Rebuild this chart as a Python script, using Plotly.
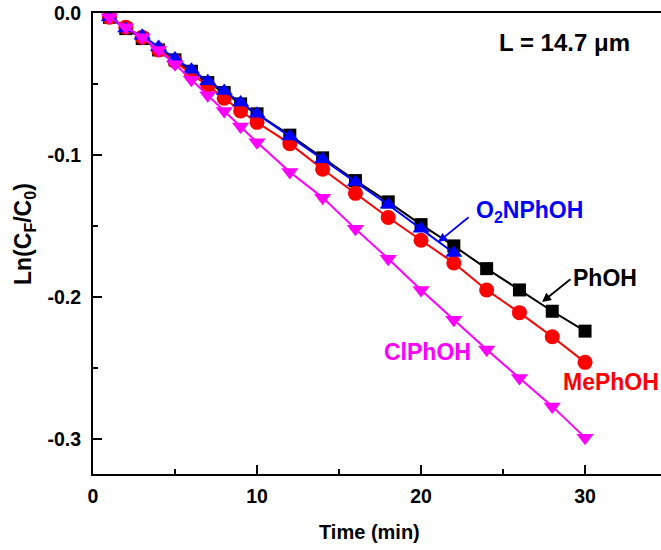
import plotly.graph_objects as go

# Reaction time (min)
time_full = [1, 2, 3, 4, 5, 6, 7, 8, 9, 10, 12, 14, 16, 18, 20, 22, 24, 26, 28, 30]
time_nitro = [1, 2, 3, 4, 5, 6, 7, 8, 9, 10, 12, 14, 16, 18, 20, 22]

# Ln(CF/C0) for each phenol
phoh = [-0.003, -0.011, -0.018, -0.026, -0.033, -0.041, -0.049, -0.056, -0.064, -0.071,
        -0.086, -0.102, -0.118, -0.133, -0.149, -0.164, -0.180, -0.195, -0.210, -0.224]
mephoh = [-0.003, -0.010, -0.017, -0.026, -0.034, -0.043, -0.051, -0.060, -0.069, -0.077,
          -0.092, -0.110, -0.127, -0.144, -0.160, -0.176, -0.195, -0.211, -0.228, -0.246]
o2nphoh = [-0.003, -0.011, -0.016, -0.024, -0.032, -0.040, -0.048, -0.055, -0.063, -0.071,
           -0.087, -0.103, -0.119, -0.135, -0.152, -0.169]
clphoh = [-0.003, -0.010, -0.017, -0.026, -0.036, -0.047, -0.058, -0.069, -0.080, -0.091,
          -0.112, -0.130, -0.152, -0.173, -0.195, -0.216, -0.237, -0.257, -0.277, -0.299]

y_ticks = [0.0, -0.1, -0.2, -0.3]
y_tick_text = ["0.0", "-0.1", "-0.2", "-0.3"]
x_ticks = [0, 10, 20, 30]

FONT = "Liberation Sans, Arial, sans-serif"
LABEL_SIZE = 23

series = [
    ("PhOH", time_full, phoh, "#000000", "square", 13),
    ("MePhOH", time_full, mephoh, "#FF0000", "circle", 15),
    ("O2NPhOH", time_nitro, o2nphoh, "#0000FF", "triangle-up", 15),
    ("ClPhOH", time_full, clphoh, "#FF00FF", "triangle-down", 15),
]

fig = go.Figure()
for name, xs, ys, color, symbol, size in series:
    fig.add_trace(go.Scatter(
        x=xs, y=ys, name=name, mode="lines+markers",
        line=dict(color=color, width=2),
        marker=dict(color=color, symbol=symbol, size=size, line=dict(width=0)),
        showlegend=False,
    ))


def label(x, y, text, color):
    return dict(x=x, y=y, xref="x", yref="y", text=text, showarrow=False,
                font=dict(family=FONT, size=LABEL_SIZE, color=color, weight="bold"),
                xanchor="left", yanchor="middle")


annotations = [
    dict(x=0.949, y=0.935, xref="paper", yref="paper", text="L = 14.7 μm",
         showarrow=False,
         font=dict(family=FONT, size=24, color="#000000", weight="bold"),
         xanchor="right", yanchor="middle"),
    label(23.2, -0.140, "O<sub>2</sub>NPhOH", "#0000FF"),
    label(29.15, -0.1866, "PhOH", "#000000"),
    label(28.55, -0.2595, "MePhOH", "#FF0000"),
    label(17.65, -0.2387, "ClPhOH", "#FF00FF"),
    # Axis titles
    dict(x=16.83, y=-0.125, xref="x", yref="paper", text="Time (min)",
         showarrow=False,
         font=dict(family=FONT, size=20, color="#000000", weight="bold"),
         xanchor="center", yanchor="middle"),
    dict(x=-0.1215, y=0.5206, xref="paper", yref="paper",
         text="Ln(C<sub>F</sub>/C<sub>0</sub>)", textangle=-90, showarrow=False,
         font=dict(family=FONT, size=23, color="#000000", weight="bold"),
         xanchor="center", yanchor="middle"),
]
fig.update_layout(annotations=annotations)

# Pointer arrows for the O2NPhOH and PhOH labels
fig.add_annotation(x=21.04, y=-0.1613, ax=22.99, ay=-0.143, xref="x", yref="y",
                   axref="x", ayref="y", text="", showarrow=True,
                   arrowcolor="#0000FF", arrowhead=2, arrowsize=1, arrowwidth=1.8)
fig.add_annotation(x=27.38, y=-0.2035, ax=29.2, ay=-0.1866, xref="x", yref="y",
                   axref="x", ayref="y", text="", showarrow=True,
                   arrowcolor="#000000", arrowhead=2, arrowsize=1, arrowwidth=1.8)

fig.update_xaxes(
    range=[0, 34.63], tickvals=x_ticks, ticks="inside", ticklen=9, tickwidth=2,
    tickcolor="#000000", showline=True, linewidth=2, linecolor="#000000",
    mirror=True, showgrid=False, zeroline=False, ticklabelstandoff=4,
    minor=dict(tickvals=[5, 15, 25], ticks="inside", ticklen=5, tickwidth=2,
               tickcolor="#000000", showgrid=False),
    tickfont=dict(family=FONT, size=19.5, color="#000000", weight="bold"),
)
fig.update_yaxes(
    range=[-0.3246, 0.0], tickvals=y_ticks, ticktext=y_tick_text, ticks="inside",
    ticklen=9, tickwidth=2, tickcolor="#000000", showline=True, linewidth=2,
    linecolor="#000000", mirror=False, showgrid=False, zeroline=False,
    ticklabelstandoff=6,
    minor=dict(tickvals=[-0.05, -0.15, -0.25], ticks="inside", ticklen=5,
               tickwidth=2, tickcolor="#000000", showgrid=False),
    tickfont=dict(family=FONT, size=19.5, color="#000000", weight="bold"),
)

fig.update_layout(
    width=661, height=550,
    margin=dict(l=93, r=0, t=13, b=76),
    paper_bgcolor="#FFFFFF", plot_bgcolor="#FFFFFF",
    font=dict(family=FONT, color="#000000"),
)

fig.write_html("out.html")
